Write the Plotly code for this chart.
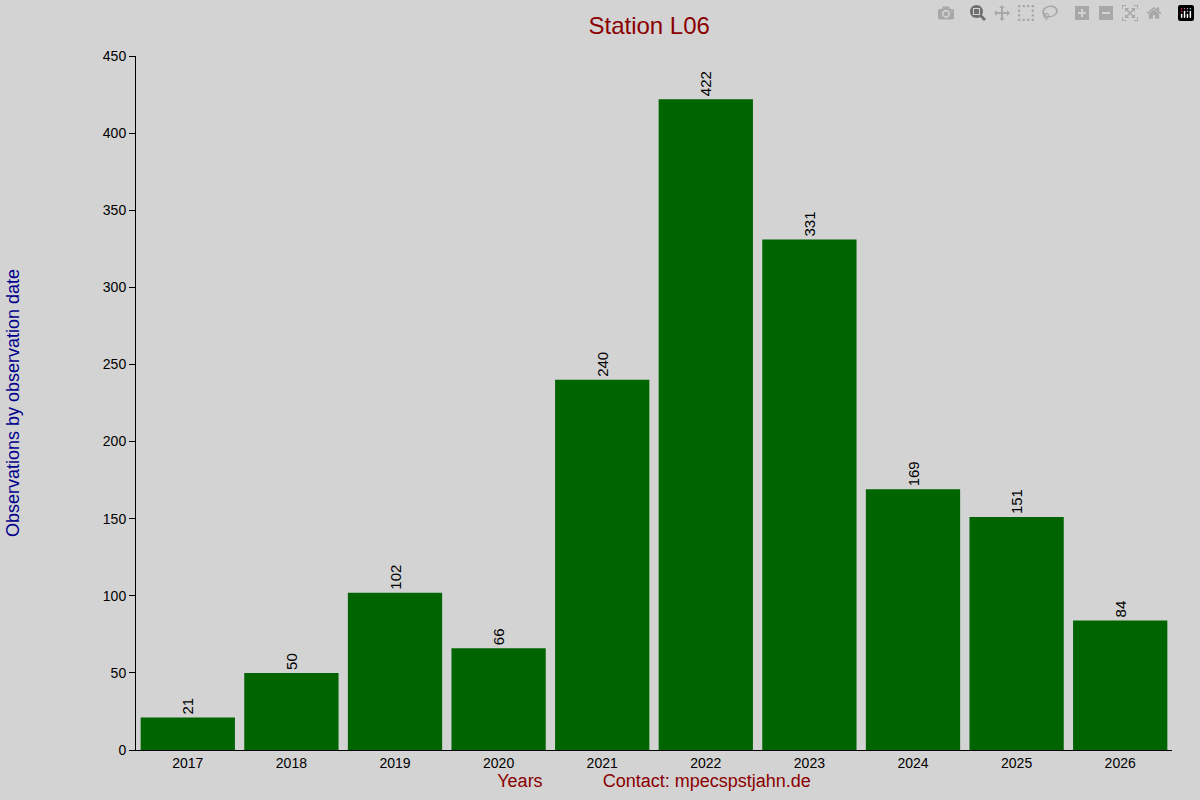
import plotly.graph_objects as go

years = ["2017", "2018", "2019", "2020", "2021", "2022", "2023", "2024", "2025", "2026"]
counts = [21, 50, 102, 66, 240, 422, 331, 169, 151, 84]

fig = go.Figure()
fig.add_trace(go.Bar(
    x=years, y=counts,
    marker=dict(color="#006400", line=dict(width=0)),
    text=[str(c) for c in counts],
    textposition="outside",
    textangle=-90,
    textfont=dict(color="black", size=15),
    cliponaxis=False,
))

fig.update_layout(
    width=1200, height=800,
    paper_bgcolor="#d3d3d3", plot_bgcolor="#d3d3d3",
    font=dict(family="Liberation Sans, Arial", size=14, color="black"),
    title=dict(text="Station L06", x=0.541, xanchor="center", y=0.978,
               font=dict(size=24, color="#8b0000")),
    margin=dict(l=126, r=28, t=56, b=50),
    bargap=0.09,
    showlegend=False,
)
fig.update_xaxes(
    showline=True, linecolor="black", linewidth=1,
    ticks="", showgrid=False,
    title=dict(text="Years&nbsp;&nbsp;&nbsp;&nbsp;&nbsp;&nbsp;&nbsp;&nbsp;&nbsp;&nbsp;&nbsp;&nbsp;Contact: mpecspstjahn.de",
               font=dict(size=18, color="#8b0000"), standoff=4),
)
fig.update_yaxes(
    range=[0, 450], dtick=50,
    showline=True, linecolor="black", linewidth=1,
    ticks="outside", ticklen=6, tickcolor="black",
    showgrid=False, zeroline=False,
    title=dict(text="Observations by observation date",
               font=dict(size=18, color="#00008b"), standoff=78),
)

fig.write_html("out.html", post_script="document.body.style.margin='0';document.body.style.background='#d3d3d3';")
